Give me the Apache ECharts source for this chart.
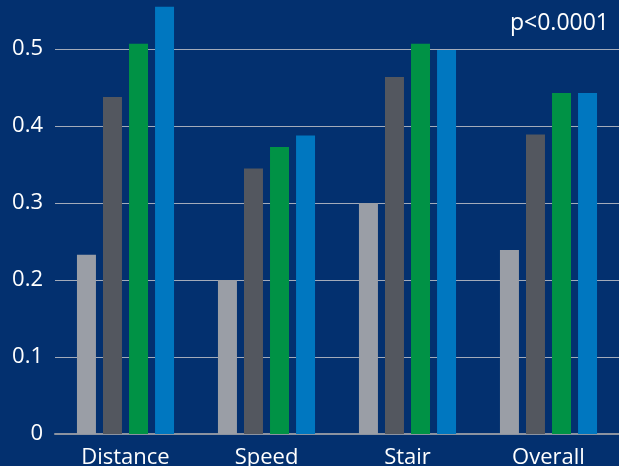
<!DOCTYPE html>
<html>
<head>
<meta charset="utf-8">
<script src="https://cdn.jsdelivr.net/npm/echarts@6/dist/echarts.min.js"></script>
<style>
html,body{margin:0;padding:0;background:#03306f;}
#chart{width:619px;height:466px;}
</style>
</head>
<body>
<div id="chart"></div>
<script>
var categories = ['Distance', 'Speed', 'Stair', 'Overall'];
var seriesA = [0.233, 0.200, 0.300, 0.239];
var seriesB = [0.438, 0.345, 0.464, 0.389];
var seriesC = [0.507, 0.373, 0.507, 0.443];
var seriesD = [0.555, 0.388, 0.499, 0.443];
var yTicks = [0, 0.1, 0.2, 0.3, 0.4, 0.5];
var annotation = 'p<0.0001';

var colors = ['#9a9ea6', '#53575f', '#009245', '#0077c0'];
var font = '"Open Sans", "Noto Sans", sans-serif';

function bar(name, data, color) {
  return {
    name: name, type: 'bar', data: data, barWidth: 19, barGap: '37%',
    itemStyle: { color: color }, silent: true
  };
}

var chart = echarts.init(document.getElementById('chart'));
chart.setOption({
  backgroundColor: '#03306f',
  animation: false,
  grid: { left: 55, right: 0, top: 3, bottom: 32, containLabel: false, outerBoundsMode: 'none' },
  title: {
    text: annotation, right: 5, top: 7,
    textStyle: { color: '#ffffff', fontFamily: font, fontSize: 23, fontWeight: 'normal' }
  },
  xAxis: {
    type: 'category', data: categories,
    axisLine: { show: true, lineStyle: { color: '#8c93a0', width: 2 } },
    axisTick: { show: false },
    axisLabel: { color: '#ffffff', fontFamily: font, fontSize: 22, margin: 13 }
  },
  yAxis: {
    type: 'value', min: 0, max: 0.56, interval: 0.1,
    axisLine: { show: false }, axisTick: { show: false },
    axisLabel: {
      color: '#ffffff', fontFamily: font, fontSize: 22, margin: 12,
      formatter: function (v) {
        for (var i = 0; i < yTicks.length; i++) {
          if (Math.abs(yTicks[i] - v) < 1e-9) return String(yTicks[i]);
        }
        return '';
      }
    },
    splitLine: {
      show: true,
      lineStyle: { color: ['#a3abba', '#a3abba', '#a3abba', '#a3abba', '#a3abba', '#a3abba', 'rgba(0,0,0,0)'], width: 1 }
    }
  },
  series: [
    bar('A', seriesA, colors[0]),
    bar('B', seriesB, colors[1]),
    bar('C', seriesC, colors[2]),
    bar('D', seriesD, colors[3])
  ]
});
</script>
</body>
</html>
